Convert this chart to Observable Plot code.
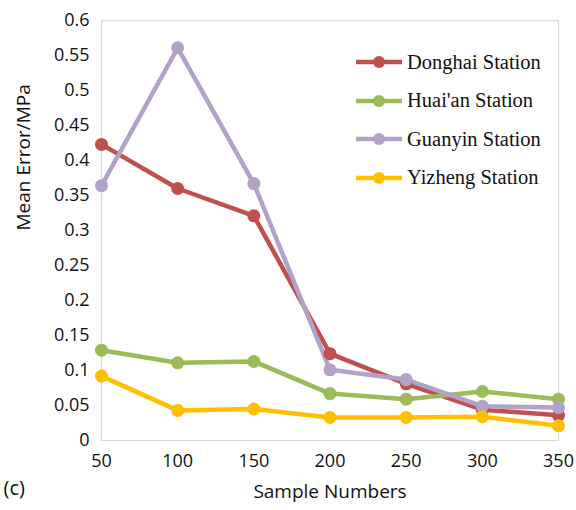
<!DOCTYPE html>
<html><head><meta charset="utf-8">
<script src="https://cdn.jsdelivr.net/npm/d3@7"></script>
<script src="https://cdn.jsdelivr.net/npm/@observablehq/plot@0.6"></script>
<style>
body{margin:0;background:#fff;}
#wrap{position:relative;width:576px;height:510px;}
#legend{position:absolute;left:355px;top:43px;font-family:"Liberation Serif","DejaVu Serif",serif;font-size:20.5px;color:#111;}
#legend .row{display:flex;align-items:center;height:38.5px;white-space:nowrap;}
#legend svg{margin-right:4px;}
</style>
</head><body>
<div id="wrap"><div id="chart"></div><div id="legend"></div></div>
<script>
const samples = [50, 100, 150, 200, 250, 300, 350];
const stations = ["Donghai Station", "Huai'an Station", "Guanyin Station", "Yizheng Station"];
const colors = ["#C0504D", "#9BBB59", "#B3A2C7", "#FFC000"];
const donghai = [0.423, 0.360, 0.321, 0.124, 0.081, 0.044, 0.036];
const huaian  = [0.129, 0.111, 0.113, 0.067, 0.059, 0.070, 0.059];
const guanyin = [0.364, 0.561, 0.367, 0.101, 0.087, 0.049, 0.047];
const yizheng = [0.092, 0.043, 0.045, 0.033, 0.033, 0.034, 0.021];
const yTicks = [0, 0.05, 0.1, 0.15, 0.2, 0.25, 0.3, 0.35, 0.4, 0.45, 0.5, 0.55, 0.6];

const series = [donghai, huaian, guanyin, yizheng];
const data = [];
stations.forEach((s, i) => series[i].forEach((v, j) => data.push({station: s, n: samples[j], v})));

const font = "Open Sans, Lato, sans-serif";
const chart = Plot.plot({
  width: 576, height: 510,
  marginLeft: 101, marginRight: 18, marginTop: 20, marginBottom: 70,
  style: {fontFamily: font, fontSize: "18px", color: "#111", background: "#fff"},
  x: {domain: [50, 350], ticks: samples, tickSize: 0, tickPadding: 14, label: null},
  y: {domain: [0, 0.6], ticks: yTicks, tickSize: 0, tickPadding: 12, label: null,
      tickFormat: d => String(+d.toFixed(2))},
  color: {domain: stations, range: colors},
  marks: [
    Plot.frame({stroke: "#d9d9d9", strokeWidth: 1.2}),
    Plot.line(data, {x: "n", y: "v", z: "station", stroke: "station", strokeWidth: 4.5}),
    Plot.dot(data, {x: "n", y: "v", fill: "station", r: 6.5}),
    Plot.text(["Sample Numbers"], {frameAnchor: "bottom", dy: 57, text: d => d, fontSize: 19}),
    Plot.text(["Mean Error/MPa"], {frameAnchor: "left", dx: -78, rotate: -90, text: d => d, fontSize: 19}),
    Plot.text(["(c)"], {frameAnchor: "bottom-left", dx: -98, dy: 54, text: d => d, fontSize: 20, textAnchor: "start"})
  ]
});
document.getElementById("chart").appendChild(chart);

const leg = document.getElementById("legend");
stations.forEach((s, i) => {
  const row = document.createElement("div");
  row.className = "row";
  row.innerHTML = `<svg width="48" height="16"><line x1="1" x2="47" y1="8" y2="8" stroke="${colors[i]}" stroke-width="4.5"/><circle cx="24" cy="8" r="6" fill="${colors[i]}"/></svg><span>${s}</span>`;
  leg.appendChild(row);
});
</script>
</body></html>
